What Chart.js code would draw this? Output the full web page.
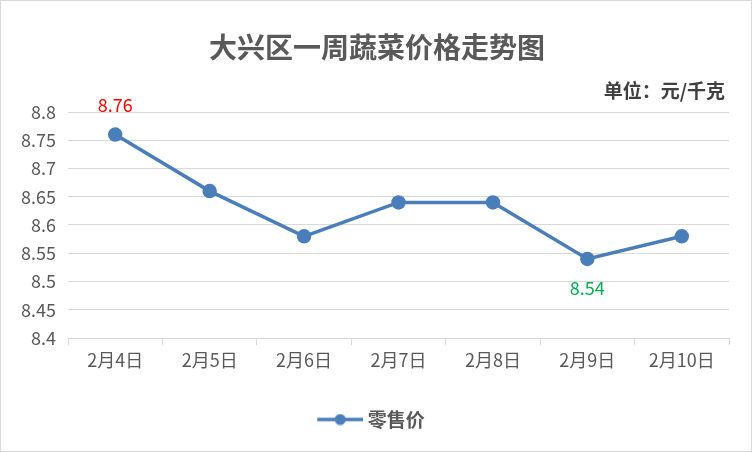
<!DOCTYPE html>
<html>
<head>
<meta charset="utf-8">
<script src="https://cdn.jsdelivr.net/npm/chart.js@4/dist/chart.umd.min.js"></script>
<style>
  html, body { margin: 0; padding: 0; background: #fff; }
  #wrap { width: 752px; height: 452px; }
</style>
</head>
<body>
<div id="wrap"><canvas id="chart" width="752" height="452"></canvas></div>
<script>
const categories = ["2月4日", "2月5日", "2月6日", "2月7日", "2月8日", "2月9日", "2月10日"];
const retailPrice = [8.76, 8.66, 8.58, 8.64, 8.64, 8.54, 8.58];
const seriesName = "零售价";
const chartTitle = "大兴区一周蔬菜价格走势图";
const unitText = "单位：元/千克";

const FONT = "'Noto Sans CJK SC', 'Noto Sans', sans-serif";
const lineColor = "#4a7ebb";

// legend icon: short line with a dot in the middle (left part left blank)
const legendIcon = document.createElement("canvas");
legendIcon.width = 56;
legendIcon.height = 12;
(function () {
  const c = legendIcon.getContext("2d");
  c.strokeStyle = lineColor;
  c.lineWidth = 3.5;
  c.beginPath();
  c.moveTo(10, 6);
  c.lineTo(56, 6);
  c.stroke();
  c.fillStyle = lineColor;
  c.beginPath();
  c.arc(33, 6, 5.5, 0, Math.PI * 2);
  c.fill();
})();

const decorations = {
  id: "decorations",
  beforeDraw(chart) {
    const ctx = chart.ctx;
    ctx.save();
    ctx.fillStyle = "#fff";
    ctx.fillRect(0, 0, chart.width, chart.height);
    ctx.strokeStyle = "#d9d9d9";
    ctx.lineWidth = 1;
    ctx.strokeRect(0.5, 0.5, chart.width - 1, chart.height - 1);
    ctx.restore();
  },
  afterDraw(chart) {
    const ctx = chart.ctx;
    ctx.save();
    ctx.fillStyle = "#595959";
    ctx.font = "bold 28px " + FONT;
    ctx.textAlign = "center";
    ctx.textBaseline = "middle";
    ctx.fillText(chartTitle, 377, 47);

    ctx.fillStyle = "#404040";
    ctx.font = "bold 19px " + FONT;
    ctx.textAlign = "right";
    ctx.fillText(unitText, 725, 91);

    // value labels on the highest and lowest points
    const meta = chart.getDatasetMeta(0);
    ctx.font = "18px " + FONT;
    ctx.textAlign = "center";
    const p0 = meta.data[0];
    ctx.fillStyle = "#ff0000";
    ctx.fillText(String(retailPrice[0]), p0.x, p0.y - 29);
    const p5 = meta.data[5];
    ctx.fillStyle = "#00b050";
    ctx.fillText(String(retailPrice[5]), p5.x, p5.y + 29);
    ctx.restore();
  }
};

new Chart(document.getElementById("chart"), {
  type: "line",
  data: {
    labels: categories,
    datasets: [{
      label: seriesName,
      data: retailPrice,
      borderColor: lineColor,
      backgroundColor: lineColor,
      borderWidth: 3.5,
      pointRadius: 5.5,
      pointHoverRadius: 5.5,
      pointBackgroundColor: lineColor,
      pointBorderColor: lineColor,
      tension: 0
    }]
  },
  options: {
    responsive: false,
    animation: false,
    layout: { padding: { left: 8, right: 23, top: 112, bottom: 13 } },
    plugins: {
      title: { display: false },
      tooltip: { enabled: false },
      legend: {
        position: "bottom",
        labels: {
          usePointStyle: true,
          pointStyleWidth: 46,
          color: "#595959",
          font: { family: FONT, size: 19, weight: "bold" },
          padding: 10,
          generateLabels(chart) {
            return [{
              text: seriesName,
              pointStyle: legendIcon,
              fillStyle: lineColor,
              strokeStyle: lineColor,
              lineWidth: 0,
              datasetIndex: 0,
              fontColor: "#595959"
            }];
          }
        }
      }
    },
    scales: {
      x: {
        offset: true,
        grid: {
          offset: true,
          drawOnChartArea: false,
          color: "#d9d9d9",
          tickLength: 7,
          lineWidth: 1
        },
        border: { color: "#d9d9d9", width: 1 },
        ticks: {
          color: "#595959",
          font: { family: FONT, size: 18 },
          padding: 4,
          maxRotation: 0
        },
        afterFit(scale) { scale.height = 62; }
      },
      y: {
        min: 8.4,
        max: 8.8,
        grid: { color: "#d9d9d9", lineWidth: 1, drawTicks: false },
        border: { display: false },
        ticks: {
          stepSize: 0.05,
          color: "#595959",
          font: { family: FONT, size: 18 },
          padding: 12,
          callback(v) { return String(parseFloat(v.toFixed(2))); }
        },
        afterFit(scale) { scale.width = 60; }
      }
    }
  },
  plugins: [decorations]
});
</script>
</body>
</html>
